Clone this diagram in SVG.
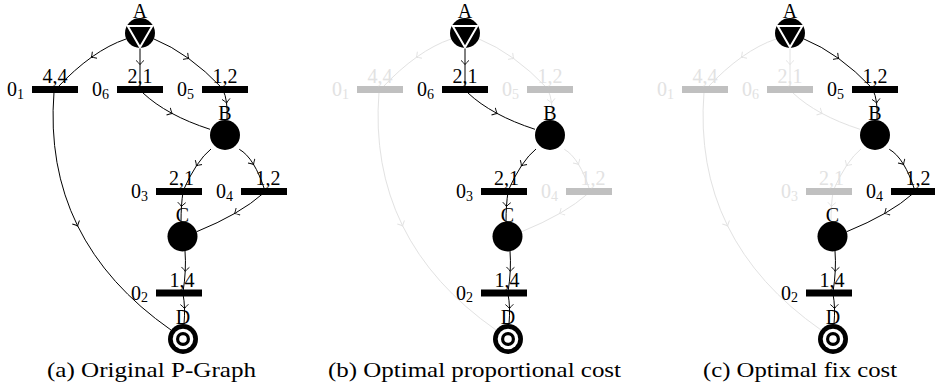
<svg xmlns="http://www.w3.org/2000/svg" xmlns:xlink="http://www.w3.org/1999/xlink" width="935" height="390" viewBox="0 0 935 390">
  <style>
    .e { fill: none; stroke: #000; stroke-width: 1; marker-mid: url(#tip); }
    .e.off { stroke: #e2e2e2; marker-mid: url(#tipOff); }
    .bar { fill: #000; }
    .bar.off { fill: #c0c0c0; }
    text { font-family: "Liberation Serif", "Times New Roman", serif; font-size: 20px; fill: #000; }
    text.off { fill: #e2e2e2; }
    .nl { text-anchor: middle; }
    .cost { text-anchor: middle; }
    .name { text-anchor: end; }
    .sub { font-size: 14px; }
    .cap { font-size: 21px; }
  </style>
  <defs>
    <marker id="tip" markerUnits="userSpaceOnUse" markerWidth="12" markerHeight="12" viewBox="-6 -6 12 12" refX="0" refY="0" orient="auto" overflow="visible">
      <path d="M-3.6,-4 Q-1,-1 0.6,0 Q-1,1 -3.6,4" fill="none" stroke="#000" stroke-width="0.9"/>
    </marker>
    <marker id="tipOff" markerUnits="userSpaceOnUse" markerWidth="12" markerHeight="12" viewBox="-6 -6 12 12" refX="0" refY="0" orient="auto" overflow="visible">
      <path d="M-3.6,-4 Q-1,-1 0.6,0 Q-1,1 -3.6,4" fill="none" stroke="#e2e2e2" stroke-width="0.9"/>
    </marker>
    <!-- raw material: disc with inscribed triangle -->
    <g id="raw">
      <circle r="15" fill="#000"/>
      <polygon points="0,14.2 -12.3,-7.1 12.3,-7.1" fill="#000" stroke="#fff" stroke-width="2"/>
    </g>
    <!-- intermediate material -->
    <circle id="mat" r="15" fill="#000"/>
    <!-- product: concentric rings -->
    <g id="prod">
      <circle r="15" fill="#000"/>
      <circle r="10.3" fill="#fff"/>
      <circle r="7" fill="#000"/>
      <circle r="3.8" fill="#fff"/>
    </g>
  </defs>

  <rect width="935" height="390" fill="#fff"/>

  <!-- (a) original P-graph -->
  <g id="pa">
    <g id="pa-edges">
      <path class="e" d="M126,39 Q109,44.8 91.75,57.05 Q74.5,69.3 57,88"/>
      <path class="e" d="M140,48 L140,64 L140,89"/>
      <path class="e" d="M154,39 Q171.3,46 188.3,58.25 Q205.3,70.5 222,88"/>
      <path class="e" d="M223,90 Q225.5,95 226.5,102.5 Q227.5,110 227,120"/>
      <path class="e" d="M143,93 Q154.9,104.15 171.6,113.2 Q188.4,122.3 210,129.3"/>
      <path class="e" d="M54,92 Q48.2,166 77.45,225.5 Q106.7,285 171,330"/>
      <path class="e" d="M211,149 Q203.7,154.85 196.7,165.35 Q189.7,175.85 183,191"/>
      <path class="e" d="M239.3,149.3 Q246.9,153.6 253.3,164 Q259.75,174.45 265,191"/>
      <path class="e" d="M183,192 Q182,198.5 181.5,206 Q181,213.5 181,222"/>
      <path class="e" d="M263.3,193.3 Q251.65,203.7 235,213.3 Q218.35,222.9 196.7,231.7"/>
      <path class="e" d="M185,251 Q185.75,260.5 185.25,270.75 Q184.75,281 183,292"/>
      <path class="e" d="M183,294 Q184.25,300.5 184.5,308 Q184.75,315.5 184,324"/>
    </g>
    <g id="pa-O1"><rect class="bar" x="32" y="86" width="46" height="7"/><text class="name" x="24" y="96">0<tspan class="sub" dy="2.5">1</tspan></text><text class="cost" x="55" y="83">4,4</text></g>
    <g id="pa-O6"><rect class="bar" x="117" y="86" width="46" height="7"/><text class="name" x="109" y="96">0<tspan class="sub" dy="2.5">6</tspan></text><text class="cost" x="140" y="83">2,1</text></g>
    <g id="pa-O5"><rect class="bar" x="202" y="86" width="46" height="7"/><text class="name" x="194" y="96">0<tspan class="sub" dy="2.5">5</tspan></text><text class="cost" x="225" y="83">1,2</text></g>
    <g id="pa-O3"><rect class="bar" x="156" y="188" width="46" height="7"/><text class="name" x="148" y="198">0<tspan class="sub" dy="2.5">3</tspan></text><text class="cost" x="181.5" y="185">2,1</text></g>
    <g id="pa-O4"><rect class="bar" x="241" y="188" width="46" height="7"/><text class="name" x="233" y="198">0<tspan class="sub" dy="2.5">4</tspan></text><text class="cost" x="268" y="185">1,2</text></g>
    <g id="pa-O2"><rect class="bar" x="156" y="289.5" width="46" height="7"/><text class="name" x="148" y="299.5">0<tspan class="sub" dy="2.5">2</tspan></text><text class="cost" x="182" y="286.5">1,4</text></g>
    <g id="pa-A" transform="translate(140,33)"><use href="#raw"/><text class="nl" y="-15">A</text></g>
    <g id="pa-B" transform="translate(225,135)"><use href="#mat"/><text class="nl" y="-15">B</text></g>
    <g id="pa-C" transform="translate(182.5,236.5)"><use href="#mat"/><text class="nl" y="-15">C</text></g>
    <g id="pa-D" transform="translate(183,339)"><use href="#prod"/><text class="nl" y="-15">D</text></g>
    <text class="cap" x="47" y="377" textLength="209" lengthAdjust="spacingAndGlyphs">(a) Original P-Graph</text>
  </g>

  <!-- (b) optimal proportional cost -->
  <g id="pb" transform="translate(325,0)">
    <g id="pb-edges">
      <path class="e off" d="M126,39 Q109,44.8 91.75,57.05 Q74.5,69.3 57,88"/>
      <path class="e off" d="M154,39 Q171.3,46 188.3,58.25 Q205.3,70.5 222,88"/>
      <path class="e off" d="M223,90 Q225.5,95 226.5,102.5 Q227.5,110 227,120"/>
      <path class="e off" d="M54,92 Q48.2,166 77.45,225.5 Q106.7,285 171,330"/>
      <path class="e off" d="M239.3,149.3 Q246.9,153.6 253.3,164 Q259.75,174.45 265,191"/>
      <path class="e off" d="M263.3,193.3 Q251.65,203.7 235,213.3 Q218.35,222.9 196.7,231.7"/>
      <path class="e" d="M140,48 L140,64 L140,89"/>
      <path class="e" d="M143,93 Q154.9,104.15 171.6,113.2 Q188.4,122.3 210,129.3"/>
      <path class="e" d="M211,149 Q203.7,154.85 196.7,165.35 Q189.7,175.85 183,191"/>
      <path class="e" d="M183,192 Q182,198.5 181.5,206 Q181,213.5 181,222"/>
      <path class="e" d="M185,251 Q185.75,260.5 185.25,270.75 Q184.75,281 183,292"/>
      <path class="e" d="M183,294 Q184.25,300.5 184.5,308 Q184.75,315.5 184,324"/>
    </g>
    <g id="pb-O1"><rect class="bar off" x="32" y="86" width="46" height="7"/><text class="name off" x="24" y="96">0<tspan class="sub" dy="2.5">1</tspan></text><text class="cost off" x="55" y="83">4,4</text></g>
    <g id="pb-O6"><rect class="bar" x="117" y="86" width="46" height="7"/><text class="name" x="109" y="96">0<tspan class="sub" dy="2.5">6</tspan></text><text class="cost" x="140" y="83">2,1</text></g>
    <g id="pb-O5"><rect class="bar off" x="202" y="86" width="46" height="7"/><text class="name off" x="194" y="96">0<tspan class="sub" dy="2.5">5</tspan></text><text class="cost off" x="225" y="83">1,2</text></g>
    <g id="pb-O3"><rect class="bar" x="156" y="188" width="46" height="7"/><text class="name" x="148" y="198">0<tspan class="sub" dy="2.5">3</tspan></text><text class="cost" x="181.5" y="185">2,1</text></g>
    <g id="pb-O4"><rect class="bar off" x="241" y="188" width="46" height="7"/><text class="name off" x="233" y="198">0<tspan class="sub" dy="2.5">4</tspan></text><text class="cost off" x="268" y="185">1,2</text></g>
    <g id="pb-O2"><rect class="bar" x="156" y="289.5" width="46" height="7"/><text class="name" x="148" y="299.5">0<tspan class="sub" dy="2.5">2</tspan></text><text class="cost" x="182" y="286.5">1,4</text></g>
    <g id="pb-A" transform="translate(140,33)"><use href="#raw"/><text class="nl" y="-15">A</text></g>
    <g id="pb-B" transform="translate(225,135)"><use href="#mat"/><text class="nl" y="-15">B</text></g>
    <g id="pb-C" transform="translate(182.5,236.5)"><use href="#mat"/><text class="nl" y="-15">C</text></g>
    <g id="pb-D" transform="translate(183,339)"><use href="#prod"/><text class="nl" y="-15">D</text></g>
    <text class="cap" x="3" y="377" textLength="293" lengthAdjust="spacingAndGlyphs">(b) Optimal proportional cost</text>
  </g>

  <!-- (c) optimal fix cost -->
  <g id="pc" transform="translate(650,0)">
    <g id="pc-edges">
      <path class="e off" d="M126,39 Q109,44.8 91.75,57.05 Q74.5,69.3 57,88"/>
      <path class="e off" d="M140,48 L140,64 L140,89"/>
      <path class="e off" d="M143,93 Q154.9,104.15 171.6,113.2 Q188.4,122.3 210,129.3"/>
      <path class="e off" d="M54,92 Q48.2,166 77.45,225.5 Q106.7,285 171,330"/>
      <path class="e off" d="M211,149 Q203.7,154.85 196.7,165.35 Q189.7,175.85 183,191"/>
      <path class="e off" d="M183,192 Q182,198.5 181.5,206 Q181,213.5 181,222"/>
      <path class="e" d="M154,39 Q171.3,46 188.3,58.25 Q205.3,70.5 222,88"/>
      <path class="e" d="M223,90 Q225.5,95 226.5,102.5 Q227.5,110 227,120"/>
      <path class="e" d="M239.3,149.3 Q246.9,153.6 253.3,164 Q259.75,174.45 265,191"/>
      <path class="e" d="M263.3,193.3 Q251.65,203.7 235,213.3 Q218.35,222.9 196.7,231.7"/>
      <path class="e" d="M185,251 Q185.75,260.5 185.25,270.75 Q184.75,281 183,292"/>
      <path class="e" d="M183,294 Q184.25,300.5 184.5,308 Q184.75,315.5 184,324"/>
    </g>
    <g id="pc-O1"><rect class="bar off" x="32" y="86" width="46" height="7"/><text class="name off" x="24" y="96">0<tspan class="sub" dy="2.5">1</tspan></text><text class="cost off" x="55" y="83">4,4</text></g>
    <g id="pc-O6"><rect class="bar off" x="117" y="86" width="46" height="7"/><text class="name off" x="109" y="96">0<tspan class="sub" dy="2.5">6</tspan></text><text class="cost off" x="140" y="83">2,1</text></g>
    <g id="pc-O5"><rect class="bar" x="202" y="86" width="46" height="7"/><text class="name" x="194" y="96">0<tspan class="sub" dy="2.5">5</tspan></text><text class="cost" x="225" y="83">1,2</text></g>
    <g id="pc-O3"><rect class="bar off" x="156" y="188" width="46" height="7"/><text class="name off" x="148" y="198">0<tspan class="sub" dy="2.5">3</tspan></text><text class="cost off" x="181.5" y="185">2,1</text></g>
    <g id="pc-O4"><rect class="bar" x="241" y="188" width="46" height="7"/><text class="name" x="233" y="198">0<tspan class="sub" dy="2.5">4</tspan></text><text class="cost" x="268" y="185">1,2</text></g>
    <g id="pc-O2"><rect class="bar" x="156" y="289.5" width="46" height="7"/><text class="name" x="148" y="299.5">0<tspan class="sub" dy="2.5">2</tspan></text><text class="cost" x="182" y="286.5">1,4</text></g>
    <g id="pc-A" transform="translate(140,33)"><use href="#raw"/><text class="nl" y="-15">A</text></g>
    <g id="pc-B" transform="translate(225,135)"><use href="#mat"/><text class="nl" y="-15">B</text></g>
    <g id="pc-C" transform="translate(182.5,236.5)"><use href="#mat"/><text class="nl" y="-15">C</text></g>
    <g id="pc-D" transform="translate(183,339)"><use href="#prod"/><text class="nl" y="-15">D</text></g>
    <text class="cap" x="53" y="377" textLength="194" lengthAdjust="spacingAndGlyphs">(c) Optimal fix cost</text>
  </g>
</svg>
